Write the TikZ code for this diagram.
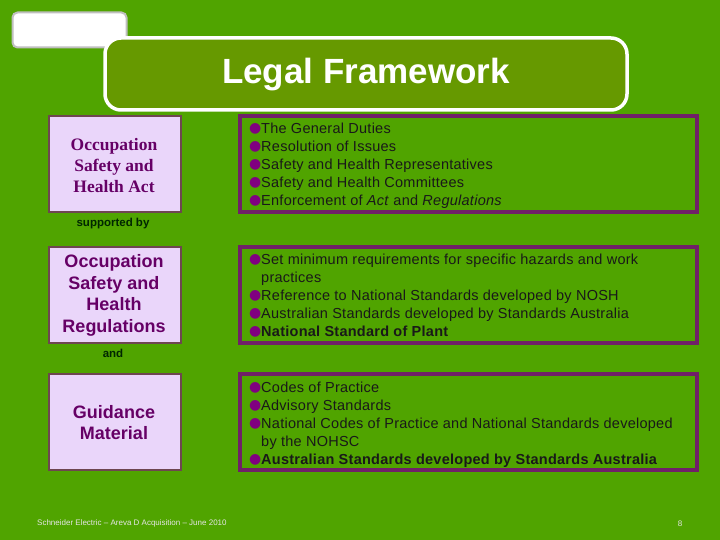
\documentclass[tikz,border=0pt]{standalone}
\usepackage{fontspec}
\setmainfont{Liberation Sans}
\newfontfamily\serifb{Liberation Serif}
\newfontfamily\dejavu{DejaVu Sans}
\newfontfamily\rfont[LetterSpace=1.8]{Liberation Sans}
\definecolor{bgc}{RGB}{80,164,0}
\definecolor{titlec}{RGB}{102,153,0}
\definecolor{lavc}{RGB}{234,214,250}
\definecolor{lbord}{RGB}{110,70,80}
\definecolor{purpc}{RGB}{102,0,102}
\definecolor{rbord}{RGB}{112,32,104}
\definecolor{bulc}{RGB}{128,0,128}
\definecolor{txtc}{RGB}{25,25,25}
\newcommand\bul{\makebox[12pt][l]{\raisebox{1.2pt}{\textcolor{bulc}{\dejavu\fontsize{14}{14}\selectfont ●}}}}
\newcommand\ind{\hspace*{12pt}}
\tikzset{
  lbox/.style={draw=lbord, line width=1.2pt, fill=lavc, minimum width=132pt, minimum height=96pt, inner sep=0pt},
  rbox/.style={draw=rbord, line width=3.5pt, minimum width=457pt, minimum height=96pt, inner sep=0pt},
  rtext/.style={anchor=north west, inner sep=0pt, align=left, text=txtc, font=\rfont\fontsize{14.5}{18}\selectfont},
  ltext/.style={text=purpc, align=center, inner sep=0pt},
  small/.style={font=\bfseries\fontsize{11.5}{13}\selectfont, text=black!85!green, inner sep=0pt}
}
\begin{document}
\begin{tikzpicture}[x=1pt,y=-1pt]
\fill[bgc] (0,0) rectangle (720,540);
\useasboundingbox (0,0) rectangle (720,540);
% top-left small box
\node[draw=black!25, line width=2pt, fill=white, rounded corners=5pt, minimum width=114pt, minimum height=35pt, inner sep=0pt] (tab) at (69.5,30) {};
% title
\node[draw=white, line width=3.5pt, fill=titlec, rounded corners=16pt, minimum width=522pt, minimum height=72pt, inner sep=0pt] (title) at (366,74) {};
\node[text=white, font=\bfseries\fontsize{35}{40}\selectfont, inner sep=0pt] (ttext) at (366,75) {Legal Framework};
% left boxes
\node[lbox] (act) at (115,164) {};
\node[ltext, font=\serifb\bfseries\fontsize{17.5}{21}\selectfont] (acttext) at (114,165.5) {Occupation\\Safety and\\Health Act};
\node[small] (sup) at (113,223.5) {supported by};
\node[lbox] (reg) at (115,295) {};
\node[ltext, font=\bfseries\fontsize{18}{21.7}\selectfont] (regtext) at (114,295.5) {Occupation\\Safety and\\Health\\Regulations};
\node[small] (and) at (113,353.5) {and};
\node[lbox] (gm) at (115,422) {};
\node[ltext, font=\bfseries\fontsize{18}{21}\selectfont] (gmtext) at (114,423) {Guidance\\Material};
% right boxes
\node[rbox] (r1) at (468.5,164) {};
\node[rtext] (r1t) at (249,122.5) {\bul The General Duties\\
\bul Resolution of Issues\\
\bul Safety and Health Representatives\\
\bul Safety and Health Committees\\
\bul Enforcement of \textit{Act} and \textit{Regulations}};
\node[rbox] (r2) at (468.5,295) {};
\node[rtext] (r2t) at (249,253.5) {\bul Set minimum requirements for specific hazards and work\\
\ind practices\\
\bul Reference to National Standards developed by NOSH\\
\bul Australian Standards developed by Standards Australia\\
\bul \textbf{National Standard of Plant}};
\node[rbox] (r3) at (468.5,422) {};
\node[rtext] (r3t) at (249,381.5) {\bul Codes of Practice\\
\bul Advisory Standards\\
\bul National Codes of Practice and National Standards developed\\
\ind by the NOHSC\\
\bul \textbf{Australian Standards developed by Standards Australia}};
% footer
\node[anchor=west, inner sep=0pt, text=white!90!black, font=\fontsize{8}{9}\selectfont] (foot) at (37,523.5) {Schneider Electric -- Areva D Acquisition -- June 2010};
\node[inner sep=0pt, text=white!90!black, font=\fontsize{8}{9}\selectfont] (page) at (680,524) {8};
\end{tikzpicture}
\end{document}
